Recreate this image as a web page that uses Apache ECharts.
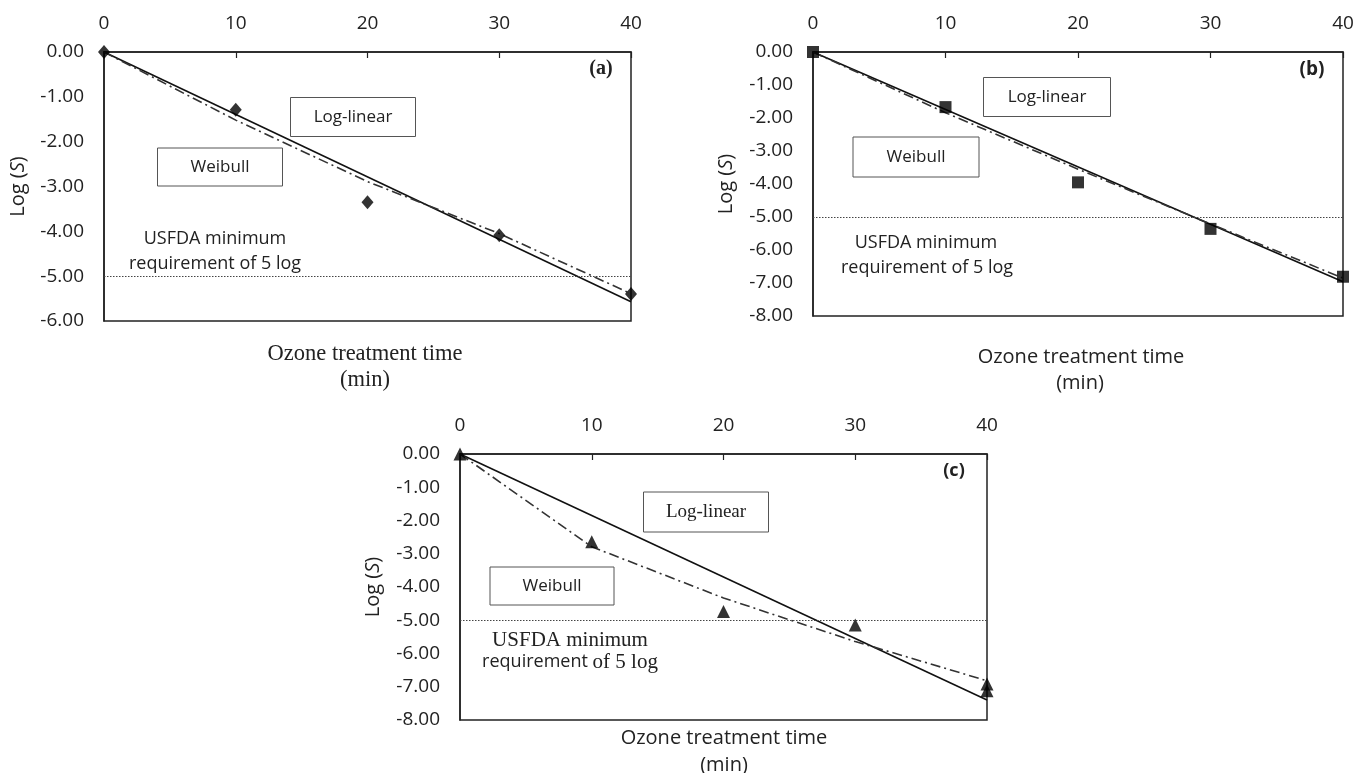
<!DOCTYPE html>
<html>
<head>
<meta charset="utf-8">
<script src="https://cdn.jsdelivr.net/npm/echarts@6/dist/echarts.min.js"></script>
<style>
html,body{margin:0;padding:0;background:#fff;}
#chart{width:1369px;height:773px;}
</style>
</head>
<body>
<div id="chart"></div>
<script>
// ---- data ----
const times = [0, 10, 20, 30, 40];
const obsA = [0, -1.29, -3.35, -4.09, -5.40];
const obsB = [0, -1.67, -3.95, -5.36, -6.81];
const obsCTimes = [0, 10, 20, 30, 40, 40];
const obsC = [0, -2.64, -4.74, -5.14, -6.92, -7.12];
const weibullA = [0, -1.52, -2.89, -4.05, -5.39];
const weibullB = [0, -1.84, -3.55, -5.21, -6.85];
const weibullC = [0, -2.79, -4.33, -5.64, -6.82];
const linearTimes = [0, 40];
const linearA = [0, -5.57];
const linearB = [0, -6.96];
const linearC = [0, -7.40];
const usfdaLimit = -5;
const yMinA = -6, yMinB = -8, yMinC = -8;
const panelLabels = ['(a)', '(b)', '(c)'];
const xTitle = 'Ozone treatment time';
const xUnit = '(min)';

const zip = (xs, ys) => xs.map((x, i) => [x, ys[i]]);

const SANS = '"Open Sans", "Liberation Sans", sans-serif';
const SERIF = '"Liberation Serif", "Times New Roman", serif';

const grids = [
  {left: 104, top: 52, width: 527, height: 269},
  {left: 813, top: 52, width: 530, height: 264},
  {left: 460, top: 454, width: 527, height: 266}
];
const yMins = [yMinA, yMinB, yMinC];
const nameGaps = [76, 77, 77];
const yLabelMargins = [20, 20, 20];

const option = {
  animation: false,
  backgroundColor: '#fff',
  grid: grids.map(g => Object.assign({show: true, borderColor: '#222', borderWidth: 1.5, backgroundColor: 'transparent'}, g)),
  xAxis: grids.map((g, i) => ({
    gridIndex: i, type: 'value', position: 'top', min: 0, max: 40, interval: 10,
    axisLine: {show: true, onZero: false, lineStyle: {color: '#222', width: 1.5}},
    axisTick: {show: true, inside: true, length: 6, lineStyle: {color: '#222', width: 1.2}},
    axisLabel: {margin: 19, color: '#222', fontFamily: SANS, fontSize: 19},
    splitLine: {show: false}
  })),
  yAxis: grids.map((g, i) => ({
    gridIndex: i, type: 'value', min: yMins[i], max: 0, interval: 1,
    axisLine: {show: true, onZero: false, lineStyle: {color: '#222', width: 1.5}},
    axisTick: {show: false},
    axisLabel: {margin: yLabelMargins[i], color: '#222', fontFamily: SANS, fontSize: 19,
      formatter: v => v.toFixed(2)},
    splitLine: {show: false},
    name: '{n|Log (}{i|S}{n|)}',
    nameLocation: 'middle', nameRotate: 90, nameGap: nameGaps[i],
    nameTextStyle: {rich: {
      n: {fontFamily: SANS, fontSize: 20, color: '#222'},
      i: {fontFamily: SANS, fontSize: 20, color: '#222', fontStyle: 'italic'}
    }}
  })),
  series: []
};

const obsSets = [zip(times, obsA), zip(times, obsB), zip(obsCTimes, obsC)];
const weiSets = [zip(times, weibullA), zip(times, weibullB), zip(times, weibullC)];
const linSets = [zip(linearTimes, linearA), zip(linearTimes, linearB), zip(linearTimes, linearC)];
const symbols = ['diamond', 'rect', 'triangle'];
const symbolSizes = [[12, 14], 12, 13];

for (let i = 0; i < 3; i++) {
  option.series.push({
    type: 'line', xAxisIndex: i, yAxisIndex: i, data: linSets[i],
    symbol: 'none', lineStyle: {color: '#111', width: 1.6}, z: 3,
    markLine: {silent: true, symbol: 'none', label: {show: false},
      lineStyle: {color: '#444', type: [1.5, 1.5], width: 1},
      data: [{yAxis: usfdaLimit}]}
  });
  option.series.push({
    type: 'line', xAxisIndex: i, yAxisIndex: i, data: weiSets[i],
    symbol: 'none', lineStyle: {color: '#333', width: 1.6, type: [10, 4, 2, 4]}, z: 3
  });
  option.series.push({
    type: 'scatter', xAxisIndex: i, yAxisIndex: i, data: obsSets[i], clip: false,
    symbol: symbols[i], symbolSize: symbolSizes[i], itemStyle: {color: '#000'}, z: 5
  });
}

function box(cx, cy, w, h, text, font) {
  return {
    type: 'group', children: [
      {type: 'rect', shape: {x: cx - w / 2, y: cy - h / 2, width: w, height: h},
        style: {fill: '#fff', stroke: '#555', lineWidth: 1}},
      {type: 'text', x: cx, y: cy, style: {text: text, font: font, fill: '#222',
        textAlign: 'center', textVerticalAlign: 'middle'}}
    ]
  };
}
function txt(cx, cy, text, font) {
  return {type: 'text', x: cx, y: cy, style: {text: text, font: font, fill: '#222',
    textAlign: 'center', textVerticalAlign: 'middle'}};
}

option.graphic = [
  // panel a
  txt(601, 69, panelLabels[0], 'bold 20px ' + SERIF),
  box(353, 117, 125, 39, 'Log-linear', '17px ' + SANS),
  box(220, 167, 125, 38, 'Weibull', '17px ' + SANS),
  txt(215, 239, 'USFDA minimum', '18px ' + SANS),
  txt(215, 264, 'requirement of 5 log', '18px ' + SANS),
  txt(365, 354, xTitle, '22.5px ' + SERIF),
  txt(365, 380, xUnit, '22.5px ' + SERIF),
  // panel b
  txt(1312, 70, panelLabels[1], 'bold 19px ' + SANS),
  box(1047, 97, 127, 39, 'Log-linear', '17px ' + SANS),
  box(916, 157, 126, 40, 'Weibull', '17px ' + SANS),
  txt(926, 243, 'USFDA minimum', '18px ' + SANS),
  txt(927, 268, 'requirement of 5 log', '18px ' + SANS),
  txt(1081, 357, xTitle, '20px ' + SANS),
  txt(1080, 383, xUnit, '20px ' + SANS),
  // panel c
  txt(954, 471, panelLabels[2], 'bold 18px ' + SANS),
  box(706, 512, 125, 40, 'Log-linear', '19px ' + SERIF),
  box(552, 586, 124, 38, 'Weibull', '17px ' + SANS),
  txt(570, 640, 'USFDA minimum', '21px ' + SERIF),
  {type: 'text', x: 570, y: 662, style: {
    text: '{s|requirement }{t|of 5 log}', textAlign: 'center', textVerticalAlign: 'middle',
    rich: {s: {font: '18px ' + SANS, fill: '#222'}, t: {font: '21px ' + SERIF, fill: '#222'}}}},
  txt(724, 738, xTitle, '20px ' + SANS),
  txt(724, 765, xUnit, '20px ' + SANS)
];

const chart = echarts.init(document.getElementById('chart'), null, {renderer: 'canvas'});
chart.setOption(option);
</script>
</body>
</html>
